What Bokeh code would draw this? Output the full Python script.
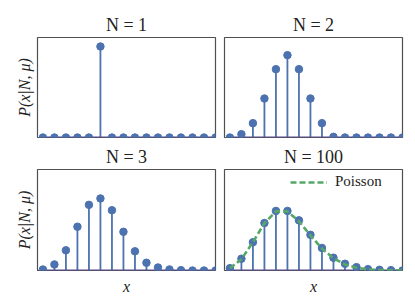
from bokeh.plotting import figure
from bokeh.layouts import gridplot
from bokeh.models import Range1d, Legend, LegendItem, FixedTicker
from bokeh.embed import file_html
from bokeh.resources import INLINE

# ---- data ----
x_vals = list(range(16))
p_n1 = [0, 0, 0, 0, 0, 0.273, 0, 0, 0, 0, 0, 0, 0, 0, 0, 0]
p_n2 = [0, 0.010, 0.043, 0.117, 0.205, 0.247, 0.205, 0.117, 0.043, 0.002,
        0, 0, 0, 0, 0, 0]
p_n3 = [0.003, 0.018, 0.060, 0.130, 0.195, 0.214, 0.179, 0.115, 0.057, 0.023,
        0.009, 0.003, 0.001, 0, 0, 0]
p_n100 = [0.007, 0.035, 0.084, 0.141, 0.177, 0.177, 0.149, 0.106, 0.067, 0.038,
          0.020, 0.010, 0.004, 0.002, 0.001, 0]
poisson = [0.0067, 0.0337, 0.0842, 0.1404, 0.1755, 0.1755, 0.1462, 0.1044,
           0.0653, 0.0363, 0.0181, 0.0082, 0.0034, 0.0013, 0.0005, 0.0002]
titles = ["N = 1", "N = 2", "N = 3", "N = 100"]
series = [p_n1, p_n2, p_n3, p_n100]
y_label = "P(x|N, μ)"
x_label = "x"

BLUE = "#4c72b0"
GREEN = "#55a868"
BASE = "#5a4a8a"
SERIF = "Liberation Serif"
TXT = "#222222"

X0, X1 = -0.47, 15.0
Y0, Y1 = 0.0, 0.30

# borders: (left, right, top, bottom)
borders = [(37, 4, 37, 4), (5, 8, 37, 4), (37, 4, 28, 30), (5, 8, 28, 30)]
frame_h = [100, 100, 101, 101]
FW = 178


def style_axis(ax, label, standoff):
    ax.ticker = FixedTicker(ticks=[])
    ax.major_tick_in = 0
    ax.major_tick_out = 0
    ax.minor_tick_in = 0
    ax.minor_tick_out = 0
    ax.axis_line_color = None
    ax.major_label_standoff = 0
    ax.axis_label = label
    ax.axis_label_standoff = standoff
    ax.axis_label_text_font = SERIF
    ax.axis_label_text_font_style = "italic"
    ax.axis_label_text_font_size = "16px"
    ax.axis_label_text_color = TXT


figs = []
for i, (vals, ttl) in enumerate(zip(series, titles)):
    bl, br, bt, bb = borders[i]
    p = figure(width=bl + FW + br, height=bt + frame_h[i] + bb,
               x_range=Range1d(X0, X1), y_range=Range1d(Y0, Y1),
               x_axis_type="linear" if i >= 2 else None,
               y_axis_type="linear" if i % 2 == 0 else None,
               output_backend="svg", toolbar_location=None,
               min_border_left=bl, min_border_right=br,
               min_border_top=bt, min_border_bottom=bb)
    p.grid.visible = False
    p.outline_line_color = "#505050"
    p.outline_line_width = 1.2
    p.background_fill_color = "white"
    p.border_fill_color = "white"

    p.title.text = ttl
    p.title.align = "center"
    p.title.text_font = SERIF
    p.title.text_font_size = "18px"
    p.title.text_font_style = "normal"
    p.title.text_color = TXT
    p.title.standoff = 6

    if i % 2 == 0:
        style_axis(p.yaxis[0], y_label, 5)
    if i >= 2:
        style_axis(p.xaxis[0], x_label, 7)

    zeros = [0] * len(x_vals)
    p.segment(x0=x_vals, y0=zeros, x1=x_vals, y1=vals, line_color=BLUE, line_width=1.8)
    p.line(x=[min(x_vals), max(x_vals)], y=[0, 0], line_color=BASE, line_width=2)
    p.scatter(x=x_vals, y=vals, size=7.5, fill_color=BLUE, line_color=BLUE)

    if i == 3:
        r = p.line(x=x_vals, y=poisson, line_color=GREEN, line_width=2.6, line_dash="6 3")
        leg = Legend(items=[LegendItem(label="Poisson", renderers=[r])],
                     location="top_right", border_line_color=None,
                     background_fill_alpha=0, margin=4, padding=4,
                     glyph_width=37, glyph_height=14, label_height=14,
                     label_width=63, label_standoff=8,
                     label_text_font=SERIF, label_text_font_size="15px",
                     label_text_color=TXT)
        p.add_layout(leg)
    figs.append(p)

grid = gridplot([[figs[0], figs[1]], [figs[2], figs[3]]], toolbar_location=None)
open("out.html", "w").write(file_html(grid, INLINE))
